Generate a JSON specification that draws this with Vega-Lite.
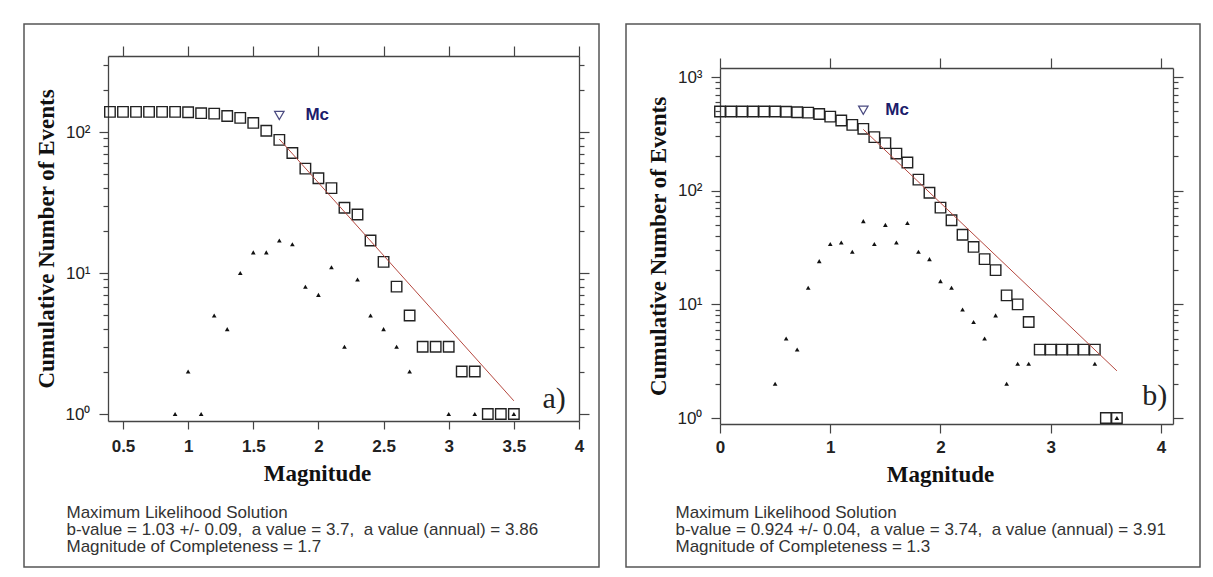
{
  "$schema": "https://vega.github.io/schema/vega-lite/v6.json",
  "background": "white",
  "padding": {"left": 23, "top": 23, "right": 0, "bottom": 0},
  "spacing": 25,
  "datasets": {
    "a": [
      {"m":0.4,"n":139,"inc":0},{"m":0.5,"n":139,"inc":0},{"m":0.6,"n":139,"inc":0},{"m":0.7,"n":139,"inc":0},{"m":0.8,"n":139,"inc":0},{"m":0.9,"n":139,"inc":1},{"m":1.0,"n":138,"inc":2},{"m":1.1,"n":136,"inc":1},{"m":1.2,"n":135,"inc":5},{"m":1.3,"n":130,"inc":4},{"m":1.4,"n":126,"inc":10},{"m":1.5,"n":116,"inc":14},{"m":1.6,"n":102,"inc":14},{"m":1.7,"n":88,"inc":17},{"m":1.8,"n":71,"inc":16},{"m":1.9,"n":55,"inc":8},{"m":2.0,"n":47,"inc":7},{"m":2.1,"n":40,"inc":11},{"m":2.2,"n":29,"inc":3},{"m":2.3,"n":26,"inc":9},{"m":2.4,"n":17,"inc":5},{"m":2.5,"n":12,"inc":4},{"m":2.6,"n":8,"inc":3},{"m":2.7,"n":5,"inc":2},{"m":2.8,"n":3,"inc":0},{"m":2.9,"n":3,"inc":0},{"m":3.0,"n":3,"inc":1},{"m":3.1,"n":2,"inc":0},{"m":3.2,"n":2,"inc":1},{"m":3.3,"n":1,"inc":0},{"m":3.4,"n":1,"inc":0},{"m":3.5,"n":1,"inc":1}
    ],
    "b": [
      {"m":0.0,"n":497,"inc":0},{"m":0.1,"n":497,"inc":0},{"m":0.2,"n":497,"inc":0},{"m":0.3,"n":497,"inc":0},{"m":0.4,"n":497,"inc":0},{"m":0.5,"n":497,"inc":2},{"m":0.6,"n":495,"inc":5},{"m":0.7,"n":490,"inc":4},{"m":0.8,"n":486,"inc":14},{"m":0.9,"n":472,"inc":24},{"m":1.0,"n":448,"inc":34},{"m":1.1,"n":414,"inc":35},{"m":1.2,"n":379,"inc":29},{"m":1.3,"n":350,"inc":54},{"m":1.4,"n":296,"inc":34},{"m":1.5,"n":262,"inc":50},{"m":1.6,"n":212,"inc":35},{"m":1.7,"n":177,"inc":52},{"m":1.8,"n":125,"inc":29},{"m":1.9,"n":96,"inc":25},{"m":2.0,"n":71,"inc":16},{"m":2.1,"n":55,"inc":14},{"m":2.2,"n":41,"inc":9},{"m":2.3,"n":32,"inc":7},{"m":2.4,"n":25,"inc":5},{"m":2.5,"n":20,"inc":8},{"m":2.6,"n":12,"inc":2},{"m":2.7,"n":10,"inc":3},{"m":2.8,"n":7,"inc":3},{"m":2.9,"n":4,"inc":0},{"m":3.0,"n":4,"inc":0},{"m":3.1,"n":4,"inc":0},{"m":3.2,"n":4,"inc":0},{"m":3.3,"n":4,"inc":0},{"m":3.4,"n":4,"inc":3},{"m":3.5,"n":1,"inc":0},{"m":3.6,"n":1,"inc":1}
    ]
  },
  "hconcat": [
    {
      "width": 575,
      "height": 543,
      "resolve": {"axis": {"x": "independent", "y": "independent"}},
      "layer": [
        {
          "data": {"name": "a"},
          "mark": {"type": "point", "shape": "square", "size": 110, "filled": false, "stroke": "#222", "strokeWidth": 1.4, "opacity": 1},
          "encoding": {
            "x": {"field": "m", "type": "quantitative",
              "scale": {"domain": [0.385, 4], "range": [84, 555], "nice": false, "zero": false},
              "axis": {"orient": "bottom", "offset": -146, "values": [0.5,1,1.5,2,2.5,3,3.5,4], "format": "~g", "grid": false,
                "tickSize": 8, "tickColor": "#444", "tickWidth": 1.2, "domainColor": "#444", "domainWidth": 1.3,
                "labelFont": "Liberation Sans", "labelFontWeight": "bold", "labelFontSize": 17, "labelColor": "#222", "labelBaseline": "alphabetic", "labelPadding": 22, "labelFlush": false, "labelOverlap": false,
                "title": "Magnitude", "titleFont": "Liberation Serif", "titleFontWeight": "bold", "titleFontSize": 23, "titleColor": "#111", "titleX": 293, "titleY": 59, "titleAlign": "center", "titleBaseline": "alphabetic"}},
            "y": {"field": "n", "type": "quantitative",
              "scale": {"type": "log", "domain": [0.892, 346], "range": [397, 32], "nice": false},
              "axis": {"orient": "left", "offset": -84, "grid": false,
                "values": [1,2,3,4,5,6,7,8,9,10,20,30,40,50,60,70,80,90,100,200,300],
                "labelExpr": "datum.value == 1 ? '10⁰' : datum.value == 10 ? '10¹' : datum.value == 100 ? '10²' : datum.value == 1000 ? '10³' : ''",
                "tickSize": {"condition": {"test": "datum.value == 1 || datum.value == 10 || datum.value == 100 || datum.value == 1000", "value": 9}, "value": 5},
                "tickColor": "#444", "tickWidth": 1.2, "domainColor": "#444", "domainWidth": 1.3,
                "labelFont": "Liberation Sans", "labelFontSize": 17, "labelColor": "#222", "labelPadding": 9, "labelFlush": false, "labelOverlap": false,
                "title": "Cumulative Number of Events", "titleFont": "Liberation Serif", "titleFontWeight": "bold", "titleFontSize": 23, "titleColor": "#111", "titleAngle": -90, "titleX": -55, "titleY": 214.5, "titleAlign": "center", "titleBaseline": "alphabetic"}}
          }
        },
        {
          "data": {"name": "a"},
          "transform": [{"filter": "datum.inc > 0"}],
          "mark": {"type": "point", "shape": "triangle-up", "size": 22, "filled": true, "color": "#111", "opacity": 1},
          "encoding": {
            "x": {"field": "m", "type": "quantitative",
              "axis": {"orient": "top", "offset": -32, "values": [0.5,1,1.5,2,2.5,3,3.5,4], "labels": false, "grid": false, "title": null,
                "tickSize": 10, "tickColor": "#444", "tickWidth": 1.2, "domainColor": "#444", "domainWidth": 1.3}},
            "y": {"field": "inc", "type": "quantitative",
              "axis": {"orient": "right", "offset": -20, "grid": false, "labels": false, "title": null,
                "values": [1,2,3,4,5,6,7,8,9,10,20,30,40,50,60,70,80,90,100,200,300],
                "tickSize": {"condition": {"test": "datum.value == 1 || datum.value == 10 || datum.value == 100 || datum.value == 1000", "value": 10}, "value": 5},
                "tickColor": "#444", "tickWidth": 1.2, "domainColor": "#444", "domainWidth": 1.3}}
          }
        },
        {
          "data": {"values": [{"m": 1.7, "n": 89}, {"m": 3.5, "n": 1.24}]},
          "mark": {"type": "line", "stroke": "#b5483f", "strokeWidth": 1},
          "encoding": {
            "x": {"field": "m", "type": "quantitative",
              "axis": {"orient": "bottom", "offset": -146, "domain": false, "ticks": false, "labels": false, "grid": false,
                "title": ["Maximum Likelihood Solution", "b-value = 1.03 +/- 0.09, \u00a0a value = 3.7, \u00a0a value (annual) = 3.86", "Magnitude of Completeness = 1.7"],
                "titleFont": "Liberation Sans", "titleFontWeight": "normal", "titleFontSize": 17, "titleColor": "#333", "titleAlign": "left", "titleBaseline": "alphabetic", "titleX": 42, "titleY": 96, "titleLineHeight": 17}},
            "y": {"field": "n", "type": "quantitative", "axis": null}
          }
        },
        {
          "data": {"values": [{"m": 1.7, "n": 131}]},
          "mark": {"type": "point", "shape": "triangle-down", "size": 90, "filled": false, "stroke": "#4a4a80", "strokeWidth": 1.2, "opacity": 1},
          "encoding": {
            "x": {"field": "m", "type": "quantitative", "axis": null},
            "y": {"field": "n", "type": "quantitative", "axis": null}
          }
        },
        {
          "data": {"values": [{"m": 1.9, "n": 131, "label": "Mc"}]},
          "mark": {"type": "text", "align": "left", "baseline": "middle", "font": "Liberation Sans", "fontWeight": "bold", "fontSize": 17, "fill": "#1c1c6b"},
          "encoding": {
            "x": {"field": "m", "type": "quantitative", "axis": null},
            "y": {"field": "n", "type": "quantitative", "axis": null},
            "text": {"field": "label"}
          }
        },
        {
          "data": {"values": [{"m": 3.72, "n": 1.1, "label": "a)"}]},
          "mark": {"type": "text", "align": "left", "baseline": "alphabetic", "font": "Liberation Serif", "fontSize": 30, "fill": "#222"},
          "encoding": {
            "x": {"field": "m", "type": "quantitative", "axis": null},
            "y": {"field": "n", "type": "quantitative", "axis": null},
            "text": {"field": "label"}
          }
        }
      ]
    },
    {
      "width": 574,
      "height": 543,
      "resolve": {"axis": {"x": "independent", "y": "independent"}},
      "layer": [
        {
          "data": {"name": "b"},
          "mark": {"type": "point", "shape": "square", "size": 110, "filled": false, "stroke": "#222", "strokeWidth": 1.4, "opacity": 1},
          "encoding": {
            "x": {"field": "m", "type": "quantitative",
              "scale": {"domain": [0, 4.109], "range": [94, 547], "nice": false, "zero": false},
              "axis": {"orient": "bottom", "offset": -143, "values": [0,1,2,3,4], "format": "~g", "grid": false,
                "tickSize": 9, "tickColor": "#444", "tickWidth": 1.2, "domainColor": "#444", "domainWidth": 1.3,
                "labelFont": "Liberation Sans", "labelFontWeight": "bold", "labelFontSize": 17, "labelColor": "#222", "labelBaseline": "alphabetic", "labelPadding": 19, "labelFlush": false, "labelOverlap": false,
                "title": "Magnitude", "titleFont": "Liberation Serif", "titleFontWeight": "bold", "titleFontSize": 23, "titleColor": "#111", "titleX": 314, "titleY": 57, "titleAlign": "center", "titleBaseline": "alphabetic"}},
            "y": {"field": "n", "type": "quantitative",
              "scale": {"type": "log", "domain": [0.886, 1200], "range": [400, 44], "nice": false},
              "axis": {"orient": "left", "offset": -94, "grid": false,
                "values": [1,2,3,4,5,6,7,8,9,10,20,30,40,50,60,70,80,90,100,200,300,400,500,600,700,800,900,1000],
                "labelExpr": "datum.value == 1 ? '10⁰' : datum.value == 10 ? '10¹' : datum.value == 100 ? '10²' : datum.value == 1000 ? '10³' : ''",
                "tickSize": {"condition": {"test": "datum.value == 1 || datum.value == 10 || datum.value == 100 || datum.value == 1000", "value": 9}, "value": 5},
                "tickColor": "#444", "tickWidth": 1.2, "domainColor": "#444", "domainWidth": 1.3,
                "labelFont": "Liberation Sans", "labelFontSize": 17, "labelColor": "#222", "labelPadding": 9, "labelFlush": false, "labelOverlap": false,
                "title": "Cumulative Number of Events", "titleFont": "Liberation Serif", "titleFontWeight": "bold", "titleFontSize": 23, "titleColor": "#111", "titleAngle": -90, "titleX": -55, "titleY": 222, "titleAlign": "center", "titleBaseline": "alphabetic"}}
          }
        },
        {
          "data": {"name": "b"},
          "transform": [{"filter": "datum.inc > 0"}],
          "mark": {"type": "point", "shape": "triangle-up", "size": 22, "filled": true, "color": "#111", "opacity": 1},
          "encoding": {
            "x": {"field": "m", "type": "quantitative",
              "axis": {"orient": "top", "offset": -44, "values": [0,1,2,3,4], "labels": false, "grid": false, "title": null,
                "tickSize": 10, "tickColor": "#444", "tickWidth": 1.2, "domainColor": "#444", "domainWidth": 1.3}},
            "y": {"field": "inc", "type": "quantitative",
              "axis": {"orient": "right", "offset": -27, "grid": false, "labels": false, "title": null,
                "values": [1,2,3,4,5,6,7,8,9,10,20,30,40,50,60,70,80,90,100,200,300,400,500,600,700,800,900,1000],
                "tickSize": {"condition": {"test": "datum.value == 1 || datum.value == 10 || datum.value == 100 || datum.value == 1000", "value": 10}, "value": 5},
                "tickColor": "#444", "tickWidth": 1.2, "domainColor": "#444", "domainWidth": 1.3}}
          }
        },
        {
          "data": {"values": [{"m": 1.3, "n": 346}, {"m": 3.6, "n": 2.6}]},
          "mark": {"type": "line", "stroke": "#b5483f", "strokeWidth": 1},
          "encoding": {
            "x": {"field": "m", "type": "quantitative",
              "axis": {"orient": "bottom", "offset": -143, "domain": false, "ticks": false, "labels": false, "grid": false,
                "title": ["Maximum Likelihood Solution", "b-value = 0.924 +/- 0.04, \u00a0a value = 3.74, \u00a0a value (annual) = 3.91", "Magnitude of Completeness = 1.3"],
                "titleFont": "Liberation Sans", "titleFontWeight": "normal", "titleFontSize": 17, "titleColor": "#333", "titleAlign": "left", "titleBaseline": "alphabetic", "titleX": 49, "titleY": 93, "titleLineHeight": 17}},
            "y": {"field": "n", "type": "quantitative", "axis": null}
          }
        },
        {
          "data": {"values": [{"m": 1.3, "n": 510}]},
          "mark": {"type": "point", "shape": "triangle-down", "size": 90, "filled": false, "stroke": "#4a4a80", "strokeWidth": 1.2, "opacity": 1},
          "encoding": {
            "x": {"field": "m", "type": "quantitative", "axis": null},
            "y": {"field": "n", "type": "quantitative", "axis": null}
          }
        },
        {
          "data": {"values": [{"m": 1.5, "n": 510, "label": "Mc"}]},
          "mark": {"type": "text", "align": "left", "baseline": "middle", "font": "Liberation Sans", "fontWeight": "bold", "fontSize": 17, "fill": "#1c1c6b"},
          "encoding": {
            "x": {"field": "m", "type": "quantitative", "axis": null},
            "y": {"field": "n", "type": "quantitative", "axis": null},
            "text": {"field": "label"}
          }
        },
        {
          "data": {"values": [{"m": 3.83, "n": 1.3, "label": "b)"}]},
          "mark": {"type": "text", "align": "left", "baseline": "alphabetic", "font": "Liberation Serif", "fontSize": 30, "fill": "#222"},
          "encoding": {
            "x": {"field": "m", "type": "quantitative", "axis": null},
            "y": {"field": "n", "type": "quantitative", "axis": null},
            "text": {"field": "label"}
          }
        }
      ]
    }
  ],
  "config": {
    "view": {"stroke": "#555", "strokeWidth": 1.5}
  }
}
